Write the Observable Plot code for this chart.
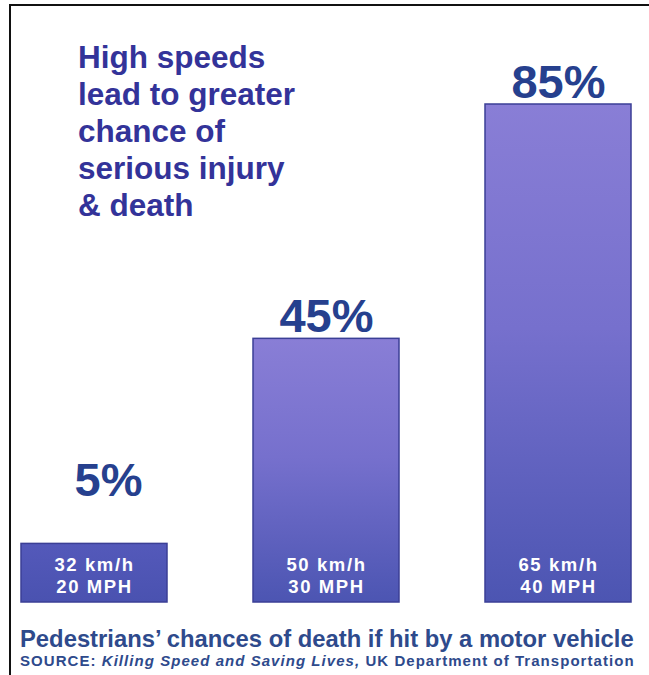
<!DOCTYPE html>
<html>
<head>
<meta charset="utf-8">
<script src="https://cdn.jsdelivr.net/npm/d3@7"></script>
<script src="https://cdn.jsdelivr.net/npm/@observablehq/plot@0.6"></script>
<style>
  html, body { margin: 0; padding: 0; background: #fff; }
  body { width: 649px; height: 675px; position: relative; overflow: hidden; font-family: "Liberation Sans", Arial, sans-serif; }
  #frame { position: absolute; left: 9px; top: 4px; right: -5px; bottom: -5px; border-top: 2.5px solid #111; border-left: 2.5px solid #111; }
  #chart { position: absolute; left: 0; top: 0; }
  #chart g[fill="#fff"] text { letter-spacing: 1.6px; }
  #title { position: absolute; left: 78px; top: 39px; color: #333399; font-weight: bold; font-size: 31.5px; line-height: 37px; }
  #caption { position: absolute; left: 20px; top: 626px; width: 625px; color: #2e4a8c; }
  #caption .main { font-weight: bold; font-size: 23.8px; line-height: 26px; white-space: nowrap; }
  #caption .src { font-weight: bold; font-size: 15px; line-height: 18px; letter-spacing: 1.05px; white-space: nowrap; }
</style>
</head>
<body>
<div id="frame"></div>
<div id="chart"></div>
<div id="title"></div>
<div id="caption"></div>
<script>
const titleLines = ["High speeds", "lead to greater", "chance of", "serious injury", "& death"];
const speedsKmh = ["32 km/h", "50 km/h", "65 km/h"];
const speedsMph = ["20 MPH", "30 MPH", "40 MPH"];
const deathChance = [5, 45, 85];
const captionMain = "Pedestrians’ chances of death if hit by a motor vehicle";
const sourceLabel = "SOURCE:";
const sourceTitle = "Killing Speed and Saving Lives,";
const sourceOrg = "UK Department of Transportation";
const minBox = 10; // the first box is drawn tall enough to hold its label

const data = speedsKmh.map((k, i) => ({key: k, kmh: k, mph: speedsMph[i], value: deathChance[i]}));

document.getElementById("title").innerHTML = titleLines.join("<br>");
document.getElementById("caption").innerHTML =
  `<div class="main">${captionMain}</div>` +
  `<div class="src">${sourceLabel} <i>${sourceTitle}</i> ${sourceOrg}</div>`;

const defs = () => {
  const g = d3.create("svg:defs");
  const lg = g.append("linearGradient").attr("id", "barGrad").attr("x1", 0).attr("y1", 0).attr("x2", 0).attr("y2", 1);
  lg.append("stop").attr("offset", "0%").attr("stop-color", "#897ed6");
  lg.append("stop").attr("offset", "45%").attr("stop-color", "#7670cd");
  lg.append("stop").attr("offset", "100%").attr("stop-color", "#4c55b2");
  const lg2 = g.append("linearGradient").attr("id", "barGrad2").attr("x1", 0).attr("y1", 0).attr("x2", 0).attr("y2", 1);
  lg2.append("stop").attr("offset", "0%").attr("stop-color", "#5459ba");
  lg2.append("stop").attr("offset", "100%").attr("stop-color", "#4a52b0");
  return g.node();
};

const pctStyle = {lineAnchor: "bottom", fill: "#26408e", fontWeight: "bold", fontSize: 47, dy: -7,
  text: d => d.value + "%", x: "key", y: d => Math.max(d.value, 17)};

const chart = Plot.plot({
  width: 649,
  height: 620,
  marginLeft: 20,
  marginRight: 16,
  marginTop: 104,
  marginBottom: 18,
  x: {domain: speedsKmh, paddingInner: 0.369, paddingOuter: 0, axis: null},
  y: {domain: [0, 85], axis: null, nice: false},
  style: {fontFamily: "Liberation Sans, Arial, sans-serif", background: "transparent", overflow: "visible"},
  marks: [
    defs,
    Plot.barY(data, {
      x: "key", y1: 0, y2: d => Math.max(d.value, minBox),
      fill: d => d.value < minBox ? "url(#barGrad2)" : "url(#barGrad)",
      stroke: "#3b3f96", strokeWidth: 1.5, inset: 0
    }),
    Plot.text(data, {x: "key", y: 0, text: d => d.kmh + "\n" + d.mph, dy: -10, fill: "#fff",
      fontWeight: "bold", fontSize: 18.5, lineHeight: 1.15, lineAnchor: "bottom"}),
    Plot.text(data.filter(d => d.value >= minBox), pctStyle),
    Plot.text(data.filter(d => d.value < minBox), {...pctStyle, dx: 14})
  ]
});
document.getElementById("chart").appendChild(chart);
</script>
</body>
</html>
